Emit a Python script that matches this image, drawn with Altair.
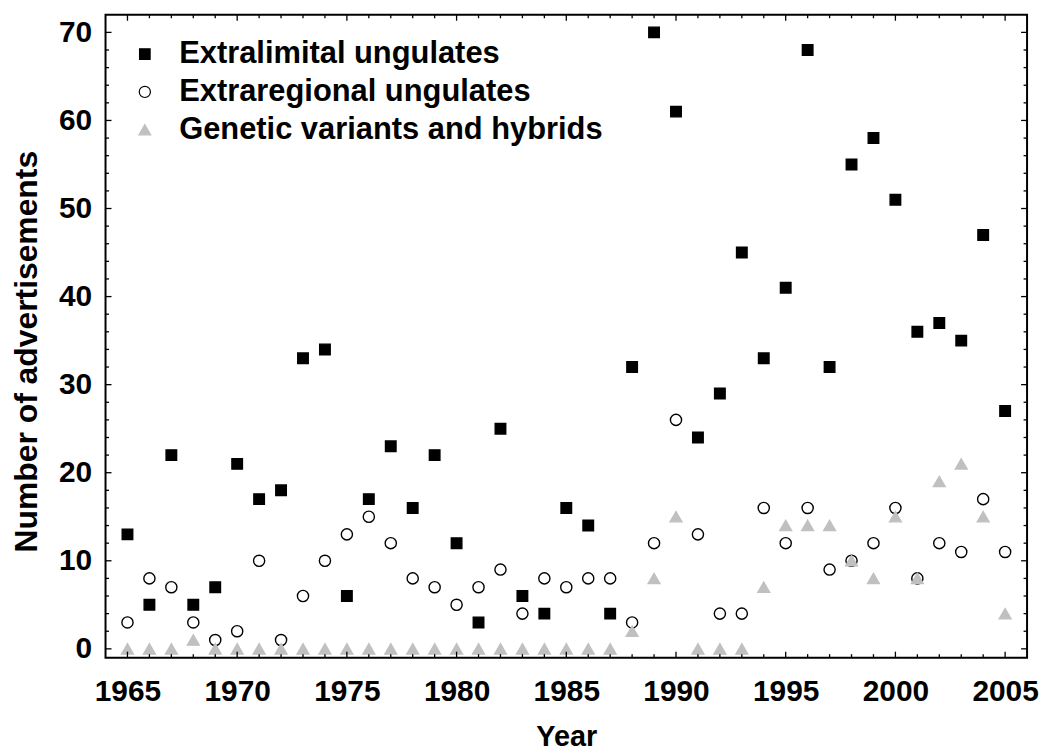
import altair as alt
import pandas as pd

years = list(range(1965, 2006))
extralimital = [13, 5, 22, 5, 7, 21, 17, 18, 33, 34,
                6, 17, 23, 16, 22, 12, 3, 25, 6, 4,
                16, 14, 4, 32, 70, 61, 24, 29, 45, 33,
                41, 68, 32, 55, 58, 51, 36, 37, 35, 47,
                27]
extraregional = [3, 8, 7, 3, 1, 2, 10, 1, 6, 10,
                 13, 15, 12, 8, 7, 5, 7, 9, 4, 8,
                 7, 8, 8, 3, 12, 26, 13, 4, 4, 16,
                 12, 16, 9, 10, 12, 16, 8, 12, 11, 17,
                 11]
genetic = [0, 0, 0, 1, 0, 0, 0, 0, 0, 0,
           0, 0, 0, 0, 0, 0, 0, 0, 0, 0,
           0, 0, 0, 2, 8, 15, 0, 0, 0, 7,
           14, 14, 14, 10, 8, 15, 8, 19, 21, 15,
           4]

series_names = ["Extralimital ungulates", "Extraregional ungulates", "Genetic variants and hybrids"]
x_tick_labels = [1965, 1970, 1975, 1980, 1985, 1990, 1995, 2000, 2005]
y_tick_labels = [0, 10, 20, 30, 40, 50, 60, 70]
x_minor = [y for y in range(1965, 2006) if y % 5 != 0]
y_minor = [v for v in range(2, 71, 2) if v % 10 != 0]

W, H = 926, 646
FONT = "Liberation Sans"

rows = []
for i, (name, vals) in enumerate(zip(series_names, [extralimital, extraregional, genetic])):
    for yr, v in zip(years, vals):
        rows.append({"Year": yr, "Value": v, "Series": name, "k": i})
df = pd.DataFrame(rows)

xscale = alt.Scale(domain=[1964, 2006], nice=False, zero=False)
yscale = alt.Scale(domain=[-1, 72], nice=False, zero=False)

xaxis = alt.Axis(values=x_tick_labels, format="d", title="Year",
                 labelPadding=19, titleY=88, titleX=W / 2,
                 titleBaseline="alphabetic", titleAlign="center",
                 titleFontSize=29)
yaxis = alt.Axis(values=y_tick_labels, title="Number of advertisements",
                 labelPadding=14, titleX=-69, titleY=338, titleAngle=270,
                 titleBaseline="alphabetic", titleAlign="center",
                 titleFontSize=32)

leg = alt.Legend(title=None, orient="none", legendX=24, legendY=24)

points = alt.Chart(df).mark_point(filled=True, opacity=1, strokeWidth=1.4).encode(
    x=alt.X("Year:Q", scale=xscale, axis=xaxis),
    y=alt.Y("Value:Q", scale=yscale, axis=yaxis),
    shape=alt.Shape("Series:N", scale=alt.Scale(domain=series_names,
                    range=["square", "circle", "triangle-up"]), legend=leg),
    fill=alt.Fill("Series:N", scale=alt.Scale(domain=series_names,
                  range=["black", "transparent", "#c0c0c0"]), legend=leg),
    stroke=alt.Stroke("Series:N", scale=alt.Scale(domain=series_names,
                      range=["black", "black", "#c0c0c0"]), legend=leg),
    size=alt.Size("Series:N", scale=alt.Scale(domain=series_names,
                  range=[112, 140, 118]), legend=leg),
    order=alt.Order("k:Q"),
)

def xt(vals, length, side):
    d = pd.DataFrame({"Year": vals})
    y0 = H if side == "bottom" else 0
    y1 = H - length if side == "bottom" else length
    return alt.Chart(d).mark_rule(color="black", strokeWidth=1.3).encode(
        x=alt.X("Year:Q", scale=xscale, axis=xaxis),
        y=alt.value(y0), y2=alt.value(y1))

def yt(vals, length, side):
    d = pd.DataFrame({"Value": vals})
    x0 = 0 if side == "left" else W
    x1 = length if side == "left" else W - length
    return alt.Chart(d).mark_rule(color="black", strokeWidth=1.3).encode(
        y=alt.Y("Value:Q", scale=yscale, axis=yaxis),
        x=alt.value(x0), x2=alt.value(x1))

layers = [
    points,
    xt(x_tick_labels, 6, "bottom"), xt(x_minor, 3.5, "bottom"),
    xt(x_tick_labels, 6, "top"), xt(x_minor, 3.5, "top"),
    yt(y_tick_labels, 6, "left"), yt(y_minor, 3.5, "left"),
    yt(y_tick_labels, 6, "right"), yt(y_minor, 3.5, "right"),
]

chart = alt.layer(*layers).properties(
    width=W, height=H,
    autosize=alt.AutoSizeParams(type="none"),
    padding={"left": 98, "top": 5, "right": 12, "bottom": 93},
    background="white",
).configure_view(
    stroke="black", strokeWidth=2
).configure_axis(
    grid=False, domain=False, ticks=False, tickSize=0,
    labelFont=FONT, labelFontSize=30, labelFontWeight="bold", labelColor="black",
    titleFont=FONT, titleFontWeight="bold", titleColor="black",
    labelFlush=False, labelOverlap=False,
).configure_legend(
    padding=0,
    labelFont=FONT, labelFontSize=31, labelFontWeight="bold", labelColor="black",
    rowPadding=6, labelOffset=19, labelLimit=600,
    symbolStrokeWidth=1.2,
)

chart.save("out.html", embed_options={"renderer": "svg", "actions": False})
